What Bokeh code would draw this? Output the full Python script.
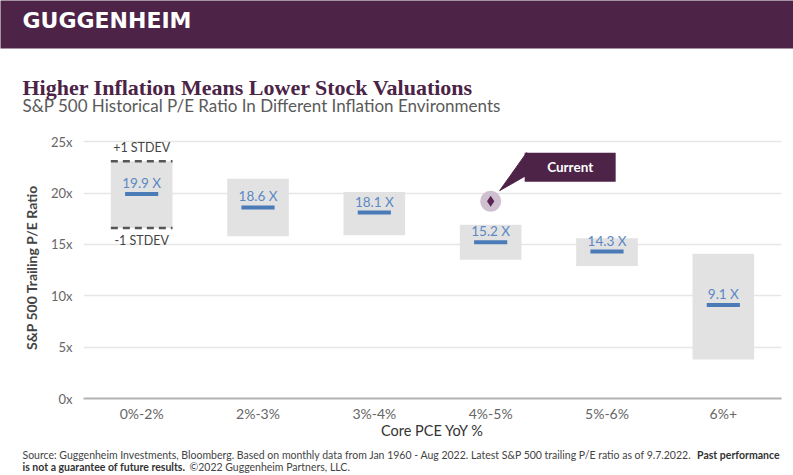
from bokeh.plotting import figure
from bokeh.layouts import column
from bokeh.models import ColumnDataSource, FactorRange, Range1d, Label, BoxAnnotation
from bokeh.transform import dodge
from bokeh.core.properties import value
from bokeh.embed import file_html
from bokeh.resources import INLINE

# ---------------- data ----------------
categories = ["0%-2%", "2%-3%", "3%-4%", "4%-5%", "5%-6%", "6%+"]
mean_pe = [19.9, 18.6, 18.1, 15.2, 14.3, 9.1]
minus_1sd = [16.6, 15.8, 15.9, 13.5, 12.9, 3.8]
plus_1sd = [23.1, 21.4, 20.1, 16.9, 15.6, 14.1]
mean_labels = ["19.9 X", "18.6 X", "18.1 X", "15.2 X", "14.3 X", "9.1 X"]
current_bucket = "4%-5%"
current_pe = 19.2
y_ticks = [0, 5, 10, 15, 20, 25]
y_tick_labels = ["0x", "5x", "10x", "15x", "20x", "25x"]

# ---------------- style ----------------
PURPLE = "#4e2348"
BOX_GRAY = "#e2e2e2"
MEAN_BLUE = "#4a7bb7"
LABEL_BLUE = "#5b88c2"
FONT = "Lato"

W = 793
H_HEAD, H_MAIN, H_FOOT = 128, 317, 30


def blank_fig(h):
    f = figure(width=W, height=h, x_range=Range1d(0, 1), y_range=Range1d(0, 1),
               output_backend="svg", toolbar_location=None,
               x_axis_location=None, y_axis_location=None,
               min_border=0, frame_align=False)
    f.title.visible = False
    f.grid.visible = False
    f.outline_line_color = None
    f.background_fill_color = "white"
    f.border_fill_color = "white"
    return f


def add_label(f, text, x, y, size, color, font=FONT, style="normal",
              align="left", baseline="alphabetic"):
    f.add_layout(Label(x=x, y=y, x_units="screen", y_units="screen", text=text,
                       text_font=font, text_font_size=size, text_color=color,
                       text_font_style=style, text_align=align,
                       text_baseline=baseline))


# ---------------- header ----------------
head = blank_fig(H_HEAD)
head.add_layout(BoxAnnotation(left=-5, right=W + 5, bottom=H_HEAD - 48,
                              top=H_HEAD + 5,
                              left_units="screen", right_units="screen",
                              bottom_units="screen", top_units="screen",
                              fill_color=PURPLE, fill_alpha=1.0, line_color=None))
add_label(head, "GUGGENHEIM", 22, H_HEAD - 19.5, "22px", "white",
          font="DejaVu Sans", style="bold", baseline="middle")
add_label(head, "Higher Inflation Means Lower Stock Valuations", 22, H_HEAD - 87,
          "22px", "#4b2346", font="Liberation Serif", style="bold")
add_label(head, "S&P 500 Historical P/E Ratio In Different Inflation Environments",
          22, H_HEAD - 105, "17px", "#5a5a5a")

# ---------------- main chart ----------------
ML, MR, MT = 83, 12, 8
MB = H_MAIN - MT - 262
Y_MAX = 25.5
frame_w = W - ML - MR
frame_h = H_MAIN - MT - MB
px_x = frame_w / len(categories)
px_y = frame_h / Y_MAX

p = figure(width=W, height=H_MAIN,
           x_range=FactorRange(factors=categories, range_padding=0),
           y_range=Range1d(0, Y_MAX),
           output_backend="svg", toolbar_location=None,
           min_border_left=ML, min_border_right=MR,
           min_border_top=MT, min_border_bottom=MB, frame_align=False)
p.title.visible = False
p.outline_line_color = None
p.background_fill_color = "white"
p.border_fill_color = "white"

p.yaxis.ticker = y_ticks
p.yaxis.major_label_overrides = dict(zip(y_ticks, y_tick_labels))
p.yaxis.axis_line_color = None
p.yaxis.major_tick_line_color = None
p.yaxis.minor_tick_line_color = None
p.yaxis.major_tick_out = 0
p.yaxis.minor_tick_out = 0
p.yaxis.major_label_text_font = FONT
p.yaxis.major_label_text_font_size = "13px"
p.yaxis.major_label_text_color = "#666666"
p.yaxis.major_label_standoff = 11
p.yaxis.axis_label = "S&P 500 Trailing P/E Ratio"
p.yaxis.axis_label_text_font = FONT
p.yaxis.axis_label_text_font_style = "bold"
p.yaxis.axis_label_text_font_size = "14px"
p.yaxis.axis_label_text_color = "#444444"
p.yaxis.axis_label_standoff = 8

p.xaxis.axis_line_color = "#b3b3b3"
p.xaxis.axis_line_width = 2
p.xaxis.major_tick_line_color = None
p.xaxis.minor_tick_line_color = None
p.xaxis.major_tick_out = 0
p.xaxis.minor_tick_out = 0
p.xaxis.major_label_text_font = FONT
p.xaxis.major_label_text_font_size = "14px"
p.xaxis.major_label_text_color = "#666666"
p.xaxis.major_label_standoff = 6
p.xaxis.axis_label = "Core PCE YoY %"
p.xaxis.axis_label_text_font = FONT
p.xaxis.axis_label_text_font_style = "normal"
p.xaxis.axis_label_text_font_size = "14.5px"
p.xaxis.axis_label_text_color = "#333333"
p.xaxis.axis_label_standoff = -3

p.xgrid.visible = False
p.ygrid.grid_line_color = "#e6e6e6"
p.ygrid.grid_line_width = 1.5

src = ColumnDataSource(dict(cat=categories, mean=mean_pe, lo=minus_1sd,
                            hi=plus_1sd, lab=mean_labels))
p.vbar(x="cat", bottom="lo", top="hi", width=0.53, source=src,
       fill_color=BOX_GRAY, line_color=None)
p.rect(x="cat", y="mean", width=0.285, height=4, height_units="screen",
       source=src, fill_color=MEAN_BLUE, line_color=None)
p.text(x="cat", y="mean", text="lab", source=src, y_offset=-11,
       text_align="center", text_baseline="middle",
       text_font=value(FONT), text_font_size="13.5px", text_color=LABEL_BLUE)

sd_src = ColumnDataSource(dict(cat=[categories[0]] * 2,
                               y=[plus_1sd[0], minus_1sd[0]],
                               lab=["+1 STDEV", "-1 STDEV"],
                               off=[-14, 13]))
p.segment(x0=dodge("cat", -0.265, range=p.x_range),
          x1=dodge("cat", 0.265, range=p.x_range),
          y0="y", y1="y", source=sd_src,
          line_color="#555555", line_width=2.5, line_dash="7 5")
p.text(x="cat", y="y", text="lab", y_offset="off", source=sd_src,
       text_align="center", text_baseline="middle",
       text_font=value(FONT), text_font_size="12.5px", text_color="#444444")

cx = categories.index(current_bucket) + 0.5
def ox(dx):
    return cx + dx / px_x
def oy(dy):
    return current_pe + dy / px_y

p.patch(x=[ox(9), ox(36), ox(36)], y=[oy(10.6), oy(48.6), oy(26.0)],
        fill_color=PURPLE, line_color=PURPLE, line_width=1)
p.quad(left=[ox(34)], right=[ox(125)], bottom=[oy(19.6)], top=[oy(48.6)],
       fill_color=PURPLE, line_color=None)
p.text(x=[ox(79.5)], y=[oy(34.1)], text=["Current"], text_align="center",
       text_baseline="middle", text_font=value(FONT), text_font_style="bold",
       text_font_size="13.5px", text_color="white")
p.scatter(x=[current_bucket], y=[current_pe], size=21, marker="circle",
          fill_color="#cfc0cf", line_color=None)
p.scatter(x=[current_bucket], y=[current_pe], size=11, marker="diamond",
          fill_color="#5b2454", line_color=None)

# ---------------- footer ----------------
foot = blank_fig(H_FOOT)
top_foot = H_HEAD + H_MAIN
def fy(page_y):
    return H_FOOT - (page_y - top_foot)

add_label(foot, "Source: Guggenheim Investments, Bloomberg. Based on monthly data from "
          "Jan 1960 - Aug 2022. Latest S&P 500 trailing P/E ratio as of 9.7.2022.",
          22, fy(454), "10.5px", "#444444")
add_label(foot, "Past performance", 779, fy(454), "10.5px", "#333333", style="bold",
          align="right")
add_label(foot, "is not a guarantee of future results.", 22, fy(466), "10.5px",
          "#333333", style="bold")
add_label(foot, "\u00a92022 Guggenheim Partners, LLC.", 189, fy(466), "10.5px",
          "#444444")

layout = column(head, p, foot, spacing=0)
open("out.html", "w").write(file_html(layout, INLINE))
